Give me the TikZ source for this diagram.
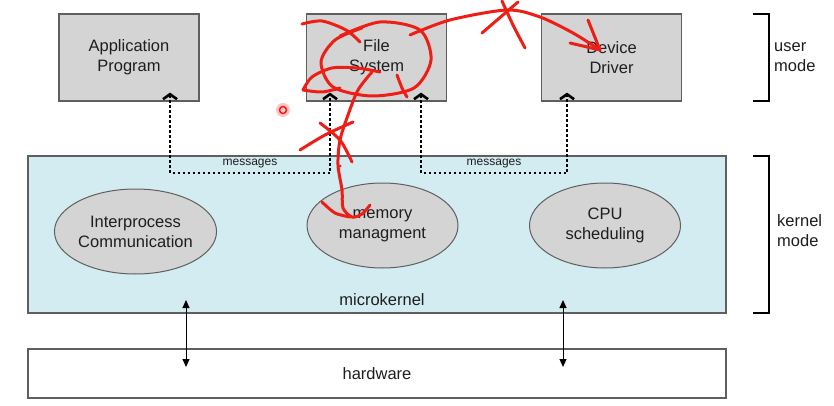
\documentclass[tikz,border=0pt]{standalone}
\usepackage{fontspec}
\setmainfont{Liberation Sans}
\usetikzlibrary{positioning,arrows.meta,calc,shapes.geometric}
\definecolor{BoxGray}{RGB}{212,212,212}
\definecolor{KernelBlue}{RGB}{211,236,242}
\definecolor{EdgeGray}{RGB}{95,95,95}
\definecolor{TextGray}{RGB}{30,30,30}
\definecolor{InkRed}{RGB}{238,30,22}

\begin{document}
\begin{tikzpicture}[x=1pt,y=-1pt,
    txt/.style={font=\fontsize{16.5}{20}\selectfont,text=TextGray},
    procbox/.style={txt,draw=EdgeGray,fill=BoxGray,line width=1.2pt,minimum width=140pt,minimum height=87pt,inner sep=0pt,align=center},
    service/.style={txt,ellipse,draw=EdgeGray,fill=BoxGray,line width=1pt,minimum width=151pt,minimum height=85pt,inner sep=0pt,align=center},
    layerbox/.style={draw=EdgeGray,line width=1.2pt,minimum width=698pt,inner sep=0pt},
    msgline/.style={line width=2.5pt,dash pattern=on 2.5pt off 2.5pt,{Straight Barb[length=5pt,width=14pt,line width=2.6pt]}-{Straight Barb[length=5pt,width=14pt,line width=2.6pt]}},
    hwlink/.style={line width=1pt,{Triangle[length=8pt,width=7pt]}-{Triangle[length=8pt,width=7pt]}},
    bracket/.style={line width=2pt},
    ink/.style={InkRed,line width=3pt,line cap=round,line join=round}]
  \useasboundingbox (0,0) rectangle (834,406);
  \fill[white] (0,0) rectangle (834,406);

  % layers
  \node[layerbox,fill=KernelBlue,minimum height=157pt] (kernel) at (377,234.5) {};
  \node[layerbox,fill=white,minimum height=49pt,txt] (hw) at (377,373.5) {hardware};
  \node[txt] (mklabel) at (382,300) {microkernel};

  % user mode processes
  \node[procbox] (app) at (129,57.5) {Application\\Program};
  \node[procbox] (fs) at (376.5,57.5) {File\\System};
  \node[procbox] (dd) at (611.5,57.5) {Device\\Driver};

  % kernel services
  \node[service] (ipc) at (135.5,231.5) {Interprocess\\Communication};
  \node[service] (mem) at (382.5,225.5) {memory\\managment};
  \node[service] (cpu) at (605,225.5) {CPU\\scheduling};

  % messages
  \coordinate (m1) at (170,173);
  \coordinate (m2) at (330,173);
  \coordinate (m3) at (421,173);
  \coordinate (m4) at (567,173);
  \draw[msgline,shorten <=-9pt,shorten >=-9pt] (m1 |- app.south) -- (m1) -- (m2) -- (m2 |- fs.south);
  \draw[msgline,shorten <=-9pt,shorten >=-9pt] (m3 |- fs.south) -- (m3) -- (m4) -- (m4 |- dd.south);
  \path (m1) -- node[above=1.5pt,font=\fontsize{12}{14}\selectfont,text=TextGray] {messages} (m2);
  \path (m3) -- node[above=1.5pt,font=\fontsize{12}{14}\selectfont,text=TextGray] {messages} (m4);

  % kernel <-> hardware
  \coordinate (k1) at (186,300);
  \coordinate (h1) at (186,367);
  \coordinate (k2) at (563,300);
  \coordinate (h2) at (563,367);
  \draw[hwlink] (k1) -- (h1);
  \draw[hwlink] (k2) -- (h2);

  % modes
  \draw[bracket] (753,14) -- (769,14) -- (769,101) -- (753,101);
  \draw[bracket] (753,156) -- (769,156) -- (769,313) -- (753,313);
  \node[txt,right,align=left,inner sep=2pt] (umode) at (772,57.5) {user\\mode};
  \node[txt,right,align=left,inner sep=2pt] (kmode) at (775,231) {kernel\\mode};

  % red pen notes
  \draw[ink] plot[smooth] coordinates {(340,36) (380,22) (420,30) (431,60) (414,88) (372,96) (333,87) (321,62) (335,40) (362,28)};
  \draw[ink] plot[smooth] coordinates {(302,24) (322,21) (346,30) (360,42)};
  \draw[ink] plot[smooth] coordinates {(303,90) (312,77) (332,68) (357,68) (380,72)};
  \draw[ink] plot[smooth] coordinates {(303,90) (322,92) (340,88)};
  \draw[ink] plot[smooth] coordinates {(397,75) (402,88) (407,97)};
  \draw[ink] plot[smooth] coordinates {(410,35) (450,20) (507,10) (540,17) (573,33) (600,50)};
  \draw[ink] (588,20) -- (600,50) -- (570,43);
  \draw[ink] (482,33) -- (518,2);
  \draw[ink] plot[smooth] coordinates {(502,1) (513,25) (525,48)};
  \draw[ink] plot[smooth] coordinates {(372,72) (358,90) (348,115) (340,140) (338,165) (342,190) (343,208) (352,217) (362,214) (370,205)};
  \draw[ink] plot[smooth] coordinates {(322,202) (335,213) (350,217)};
  \draw[ink] plot[smooth] coordinates {(300,150) (325,135) (353,122)};
  \draw[ink] plot[smooth] coordinates {(320,123) (340,140) (352,162)};
  \fill[InkRed] (340,166) circle (1.5);
  \fill[InkRed!25] (283,110) circle (7);
  \draw[InkRed,line width=1.5pt] (283,110) circle (3.5);
\end{tikzpicture}
\end{document}
